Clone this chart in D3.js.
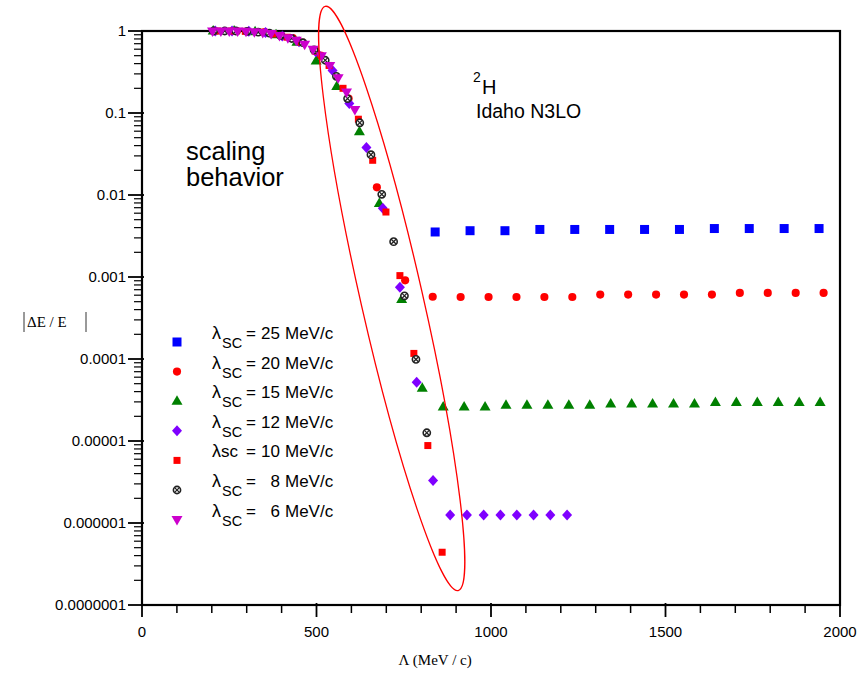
<!DOCTYPE html>
<html>
<head>
<meta charset="utf-8">
<script src="https://cdn.jsdelivr.net/npm/d3@7"></script>
<style>
  body { margin: 0; background: #fff; }
  svg { display: block; }
  text { font-family: "Liberation Sans", Arial, sans-serif; fill: #000; }
  .serif { font-family: "Liberation Serif", "Times New Roman", serif; }
</style>
</head>
<body>
<svg id="svg" width="867" height="676"></svg>
<script>
// values: cutoff Lambda (MeV/c) and |dE/E|

var lam25 = [840, 940, 1040, 1140, 1240, 1340, 1440, 1540, 1640, 1740, 1840, 1940];
var val25 = [0.00354, 0.00367, 0.00367, 0.0038, 0.0038, 0.0038, 0.0038, 0.0038, 0.0039, 0.0039, 0.0039, 0.0039];

var lam20 = [272, 352, 432, 512, 592, 673, 754, 833, 913, 993, 1073, 1153, 1233, 1313, 1393, 1473, 1553, 1633, 1713, 1793, 1873, 1953];
var val20 = [1.0, 0.97, 0.82, 0.50, 0.15, 0.0124, 0.00091, 0.000575, 0.00057, 0.00057, 0.00057, 0.00057, 0.00057,
             0.00061, 0.00061, 0.00061, 0.00061, 0.00061, 0.00064, 0.00064, 0.00064, 0.00064];

var lam15 = [204, 264, 324, 384, 444, 499, 558, 623, 680, 744, 803, 863, 923, 983, 1043, 1103, 1163, 1223, 1283,
             1343, 1403, 1463, 1523, 1583, 1643, 1703, 1763, 1823, 1883, 1943];
var val15 = [1.0, 1.0, 0.98, 0.90, 0.73, 0.43, 0.21, 0.059, 0.0079, 0.00053, 0.000044, 0.000026, 0.000026, 0.000026,
             0.0000272, 0.0000272, 0.0000272, 0.0000272, 0.0000272, 0.0000283, 0.0000283, 0.0000283, 0.0000283, 0.0000283,
             0.0000295, 0.0000295, 0.0000295, 0.0000295, 0.0000295, 0.0000295];

var lam12 = [210, 258, 306, 354, 402, 450, 498, 546, 594, 643, 690, 739, 787, 834, 883, 931, 979, 1027, 1074, 1122, 1170, 1218];
var val12 = [1.0, 1.0, 0.99, 0.96, 0.87, 0.74, 0.56, 0.33, 0.131, 0.038, 0.0069, 0.00075, 0.000052, 0.0000033,
             0.00000125, 0.00000125, 0.00000125, 0.00000125, 0.00000125, 0.00000125, 0.00000125, 0.00000125];

var lam10 = [216, 256, 296, 336, 376, 416, 456, 496, 536, 576, 620, 661, 699, 739, 779, 819, 860];
var val10 = [1.0, 1.0, 0.99, 0.97, 0.92, 0.84, 0.73, 0.57, 0.38, 0.20, 0.084, 0.0265, 0.0062, 0.00104, 0.000117,
             0.0000088, 0.00000044];

var lam8 = [205, 237, 269, 301, 333, 365, 397, 429, 461, 493, 525, 557, 589, 624, 656, 687, 721, 752, 785, 816];
var val8 = [1.0, 1.0, 1.0, 0.99, 0.97, 0.94, 0.88, 0.81, 0.72, 0.59, 0.44, 0.28, 0.15, 0.076, 0.031, 0.0102,
            0.0027, 0.00059, 0.000099, 0.0000126];

var lam6 = [202, 226, 250, 274, 298, 322, 346, 370, 394, 418, 442, 466, 490, 514, 538, 562, 586, 610];
var val6 = [1.0, 1.0, 1.0, 1.0, 0.99, 0.98, 0.96, 0.93, 0.88, 0.83, 0.77, 0.69, 0.60, 0.50, 0.38, 0.27, 0.18, 0.11];

var seriesNames = ["25", "20", "15", "12", "10", "8", "6"];
var seriesLam = [lam25, lam20, lam15, lam12, lam10, lam8, lam6];
var seriesVal = [val25, val20, val15, val12, val10, val8, val6];
var seriesShape = ["square", "circle", "triUp", "diamond", "smallSquare", "otimes", "triDown"];
var seriesColor = ["#0000ff", "#ff0000", "#008000", "#7f00ff", "#ff0000", "#000000", "#cc00cc"];

var xTicks = [0, 500, 1000, 1500, 2000];
var yTicks = [1, 0.1, 0.01, 0.001, 0.0001, 0.00001, 0.000001, 0.0000001];
var yTickLabels = ["1", "0.1", "0.01", "0.001", "0.0001", "0.00001", "0.000001", "0.0000001"];

//////////////////////////////////////////////////////////////////////////////

var svg = d3.select("#svg");
var x = d3.scaleLinear().domain([0, 2000]).range([142, 840]);
var y = d3.scaleLog().domain([1e-7, 1]).range([605, 31]);

// minor ticks
var xMinor = d3.range(0, 2001, 100).filter(function(v) { return v % 500 !== 0; });
var yMinor = [];
for (var e = -7; e < 0; e++) {
    for (var k = 2; k < 10; k++) yMinor.push(k * Math.pow(10, e));
}

var axisG = svg.append("g");
axisG.selectAll("line.xmin").data(xMinor).enter().append("line")
    .attr("x1", function(d) { return x(d); }).attr("x2", function(d) { return x(d); })
    .attr("y1", y(1e-7)).attr("y2", y(1e-7) + 8)
    .attr("stroke", "#000").attr("stroke-width", 1.5);
axisG.selectAll("line.xmaj").data(xTicks).enter().append("line")
    .attr("x1", function(d) { return x(d); }).attr("x2", function(d) { return x(d); })
    .attr("y1", y(1e-7) - 2).attr("y2", y(1e-7) + 12)
    .attr("stroke", "#000").attr("stroke-width", 1.8);
axisG.selectAll("line.ymin").data(yMinor).enter().append("line")
    .attr("x1", x(0) - 8).attr("x2", x(0))
    .attr("y1", function(d) { return y(d); }).attr("y2", function(d) { return y(d); })
    .attr("stroke", "#000").attr("stroke-width", 1.2);
axisG.selectAll("line.ymaj").data(yTicks).enter().append("line")
    .attr("x1", x(0) - 14).attr("x2", x(0) + 2)
    .attr("y1", function(d) { return y(d); }).attr("y2", function(d) { return y(d); })
    .attr("stroke", "#000").attr("stroke-width", 1.8);

// frame
axisG.append("rect")
    .attr("x", x(0)).attr("y", y(1))
    .attr("width", x(2000) - x(0)).attr("height", y(1e-7) - y(1))
    .attr("fill", "none").attr("stroke", "#000").attr("stroke-width", 2.2);

axisG.selectAll("text.xl").data(xTicks).enter().append("text")
    .attr("x", function(d) { return x(d); }).attr("y", y(1e-7) + 32)
    .attr("text-anchor", "middle").attr("font-size", 15)
    .text(function(d) { return d; });
axisG.selectAll("text.yl").data(yTicks).enter().append("text")
    .attr("x", x(0) - 16).attr("y", function(d) { return y(d) + 5; })
    .attr("text-anchor", "end").attr("font-size", 15)
    .text(function(d, i) { return yTickLabels[i]; });

// axis titles
svg.append("text").attr("class", "serif")
    .attr("x", x(840)).attr("y", 665).attr("text-anchor", "middle").attr("font-size", 15)
    .text("\u039B  (MeV / c)");
var yt = svg.append("g").attr("transform", "translate(24,327)");
yt.append("text").attr("class", "serif").attr("x", 3).attr("y", 0).attr("font-size", 15)
    .text("\u0394E / E");
yt.append("line").attr("x1", 0).attr("x2", 0).attr("y1", -15).attr("y2", 5).attr("stroke", "#000").attr("stroke-width", 0.8);
yt.append("line").attr("x1", 62).attr("x2", 62).attr("y1", -15).attr("y2", 5).attr("stroke", "#000").attr("stroke-width", 0.8);

// markers
function symbolPath(shape) {
    switch (shape) {
        case "square": return "M-4.5,-4.5H4.5V4.5H-4.5Z";
        case "smallSquare": return "M-3.5,-3.5H3.5V3.5H-3.5Z";
        case "circle": return d3.symbol(d3.symbolCircle, 52)();
        case "triUp": return "M0,-6L5.5,3.5L-5.5,3.5Z";
        case "triDown": return "M0,6L5.5,-3.5L-5.5,-3.5Z";
        case "diamond": return "M0,-5.5L5,0L0,5.5L-5,0Z";
    }
    return null;
}

function drawMarker(g, shape, color) {
    if (shape === "otimes") {
        g.append("circle").attr("r", 3.6).attr("fill", "#fff").attr("stroke", "#222").attr("stroke-width", 1.6);
        g.append("path").attr("d", "M-2.4,-2.4L2.4,2.4M-2.4,2.4L2.4,-2.4").attr("stroke", "#222").attr("stroke-width", 1.3);
    } else {
        g.append("path").attr("d", symbolPath(shape)).attr("fill", color);
    }
}

for (var s = 0; s < seriesNames.length; ++s) {
    var pts = seriesLam[s].map(function(l, i) { return { lam: l, v: seriesVal[s][i] }; });
    var sg = svg.append("g");
    var gs = sg.selectAll("g").data(pts).enter().append("g")
        .attr("transform", function(d) { return "translate(" + x(d.lam) + "," + y(d.v) + ")"; });
    (function(shape, color) {
        gs.each(function() { drawMarker(d3.select(this), shape, color); });
    })(seriesShape[s], seriesColor[s]);
}

// legend
var legY0 = 342, legDy = 29.6;
for (var j = 0; j < seriesNames.length; ++j) {
    var ly = legY0 + j * legDy;
    var lg = svg.append("g").attr("transform", "translate(177," + ly + ")");
    drawMarker(lg, seriesShape[j], seriesColor[j]);
    var tg = svg.append("g").attr("transform", "translate(0," + ly + ")");
    tg.append("text").attr("x", 212).attr("y", -3).attr("font-size", 18).text("\u03BB");
    if (seriesNames[j] === "10") {
        tg.append("text").attr("x", 221).attr("y", -3).attr("font-size", 17).text("sc");
    } else {
        tg.append("text").attr("x", 222).attr("y", 6).attr("font-size", 14.5).text("SC");
    }
    tg.append("text").attr("x", 246).attr("y", -3).attr("font-size", 17).text("=");
    tg.append("text").attr("x", 280).attr("y", -3).attr("font-size", 17).attr("text-anchor", "end").text(seriesNames[j]);
    tg.append("text").attr("x", 285).attr("y", -3).attr("font-size", 17).text("MeV/c");
}

// annotations
svg.append("text").attr("x", 186).attr("y", 160).attr("font-size", 25.5).text("scaling");
svg.append("text").attr("x", 186).attr("y", 186).attr("font-size", 25.5).text("behavior");
svg.append("text").attr("x", 473).attr("y", 82).attr("font-size", 14).text("2");
svg.append("text").attr("x", 482).attr("y", 94).attr("font-size", 20).text("H");
svg.append("text").attr("x", 476).attr("y", 118).attr("font-size", 19.5).text("Idaho N3LO");

// red ellipse around the scaling region, given by its two ends in data units
var ellTop = { lam: 525, v: 2.0 }, ellBot = { lam: 906, v: 1.5e-7 };
var ex1 = x(ellTop.lam), ey1 = y(ellTop.v), ex2 = x(ellBot.lam), ey2 = y(ellBot.v);
var ecx = (ex1 + ex2) / 2, ecy = (ey1 + ey2) / 2;
var ery = Math.sqrt((ex2 - ex1) * (ex2 - ex1) + (ey2 - ey1) * (ey2 - ey1)) / 2;
var eang = -Math.atan2(ex2 - ex1, ey2 - ey1) * 180 / Math.PI;
svg.append("ellipse")
    .attr("cx", 0).attr("cy", 0).attr("rx", 31).attr("ry", ery)
    .attr("transform", "translate(" + ecx + "," + ecy + ") rotate(" + eang + ")")
    .attr("fill", "none").attr("stroke", "#ff0000").attr("stroke-width", 1.3);
</script>
</body>
</html>
